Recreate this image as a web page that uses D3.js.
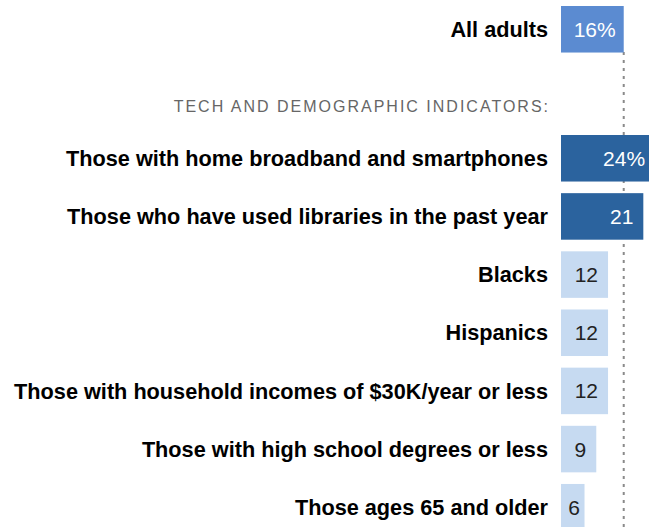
<!DOCTYPE html>
<html>
<head>
<meta charset="utf-8">
<script src="https://cdn.jsdelivr.net/npm/d3@7"></script>
<style>
  body { margin: 0; background: #fff; }
  svg { display: block; }
  .label { font-family: "Liberation Sans", Arial, sans-serif; font-weight: bold; font-size: 21.7px; fill: #000; }
  .value { font-family: "Liberation Sans", Arial, sans-serif; font-size: 21px; }
  .heading { font-family: "Liberation Sans", Arial, sans-serif; font-size: 16px; letter-spacing: 2px; fill: #666; }
</style>
</head>
<body>
<script>
var totalLabel = "All adults";
var totalValue = 16;

var categories = [
    "Those with home broadband and smartphones",
    "Those who have used libraries in the past year",
    "Blacks",
    "Hispanics",
    "Those with household incomes of $30K/year or less",
    "Those with high school degrees or less",
    "Those ages 65 and older"
];
var values = [24, 21, 12, 12, 12, 9, 6];
var groups = ["tech", "tech", "demo", "demo", "demo", "demo", "demo"];

var width = 649, height = 527;

var svg = d3.select("body").append("svg")
    .attr("width", width)
    .attr("height", height);

var x = d3.scaleLinear().domain([0, 25]).range([561, 659]);
var y = d3.scaleBand().domain(categories).range([135, 530.5]).paddingInner(0.2).paddingOuter(0);

var color = { total: "#5b8bd1", tech: "#2b639e", demo: "#c6daf1" };

// reference line at the all adults value
svg.append("line")
    .attr("x1", x(totalValue))
    .attr("x2", x(totalValue))
    .attr("y1", 52)
    .attr("y2", height)
    .style("stroke", "#8a8a8a")
    .style("stroke-width", 2)
    .style("stroke-dasharray", "3,5");

// all adults row
var totalY = 6;
svg.append("rect")
    .attr("x", x(0))
    .attr("y", totalY)
    .attr("width", x(totalValue) - x(0))
    .attr("height", y.bandwidth())
    .style("fill", color.total);

svg.append("text")
    .attr("class", "label")
    .attr("x", 548)
    .attr("y", totalY + y.bandwidth() / 2)
    .attr("dy", "0.35em")
    .attr("text-anchor", "end")
    .text(totalLabel);

svg.append("text")
    .attr("class", "value")
    .attr("x", x(totalValue) - 8)
    .attr("y", totalY + y.bandwidth() / 2)
    .attr("dy", "0.36em")
    .attr("text-anchor", "end")
    .style("fill", "#fff")
    .text(totalValue + "%");

svg.append("text")
    .attr("class", "heading")
    .attr("x", 550)
    .attr("y", 112)
    .attr("text-anchor", "end")
    .text("TECH AND DEMOGRAPHIC INDICATORS:");

// indicator rows
var rows = svg.selectAll(".row")
    .data(categories)
    .enter()
    .append("g")
    .attr("class", "row");

rows.append("rect")
    .attr("x", x(0))
    .attr("y", function(d) { return y(d); })
    .attr("width", function(d, i) { return x(values[i]) - x(0); })
    .attr("height", y.bandwidth())
    .style("fill", function(d, i) { return color[groups[i]]; });

rows.append("text")
    .attr("class", "label")
    .attr("x", 548)
    .attr("y", function(d) { return y(d) + y.bandwidth() / 2; })
    .attr("dy", "0.35em")
    .attr("text-anchor", "end")
    .text(function(d) { return d; });

rows.append("text")
    .attr("class", "value")
    .attr("x", function(d, i) { return Math.max(x(values[i]) - 10, x(0) + 19); })
    .attr("y", function(d) { return y(d) + y.bandwidth() / 2; })
    .attr("dy", "0.36em")
    .attr("text-anchor", "end")
    .style("fill", function(d, i) { return groups[i] == "tech" ? "#fff" : "#222"; })
    .text(function(d, i) { return i == 0 ? values[i] + "%" : values[i]; });
</script>
</body>
</html>
